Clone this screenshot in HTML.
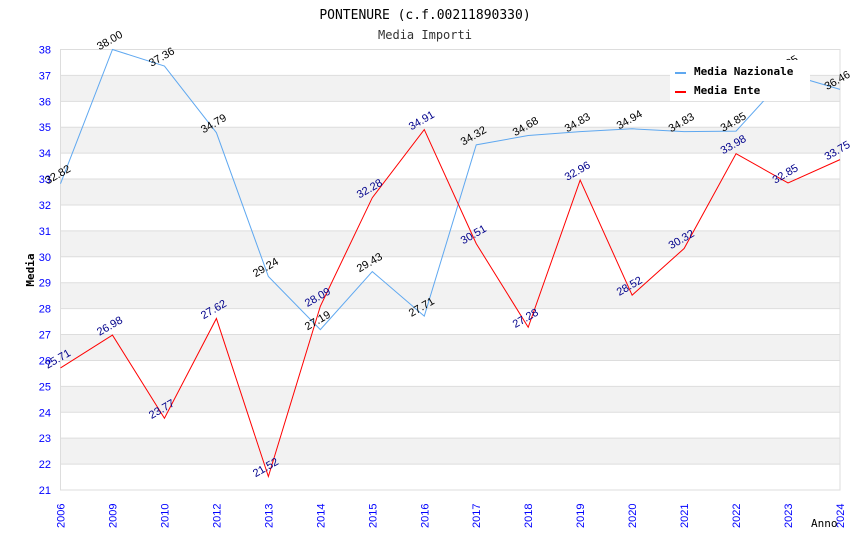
<!DOCTYPE html>
<html><head><meta charset="utf-8"><style>
body{margin:0;background:#fff;width:850px;height:550px;overflow:hidden}
text{font-family:"DejaVu Sans Mono","Liberation Mono",monospace}
text.s{font-family:"Liberation Sans","DejaVu Sans",sans-serif}
</style></head><body>
<svg id="c" width="850" height="550" xmlns="http://www.w3.org/2000/svg">
<text x="425" y="19" text-anchor="middle" font-size="13" fill="#000">PONTENURE (c.f.00211890330)</text>
<text x="425" y="39" text-anchor="middle" font-size="12" fill="#333">Media Importi</text>
<g id="grid"></g><g id="marks"></g><g id="labels"></g>
<text transform="translate(34,270) rotate(-90)" text-anchor="middle" font-size="11" font-weight="bold">Media</text>
<text x="811" y="527" font-size="11">Anno</text>
<g>
<rect x="670" y="60" width="140" height="41" fill="#fff"/>
<line x1="675" y1="73" x2="686" y2="73" stroke="#5fa8f0" stroke-width="2"/>
<text x="694" y="75" font-size="11" font-weight="bold">Media Nazionale</text>
<line x1="675" y1="92" x2="686" y2="92" stroke="#f00" stroke-width="2"/>
<text x="694" y="94" font-size="11" font-weight="bold">Media Ente</text>
</g>
</svg>
<script>
const years=["2006","2009","2010","2012","2013","2014","2015","2016","2017","2018","2019","2020","2021","2022","2023","2024"];
const nazionale=[32.82,38.00,37.36,34.79,29.24,27.19,29.43,27.71,34.32,34.68,34.83,34.94,34.83,34.85,37.05,36.46];
const ente=[25.71,26.98,23.77,27.62,21.52,28.09,32.28,34.91,30.51,27.28,32.96,28.52,30.32,33.98,32.85,33.75];
const yTicks=[21,22,23,24,25,26,27,28,29,30,31,32,33,34,35,36,37,38];
const NS="http://www.w3.org/2000/svg";
const L=60.5,R=840,T=49.5,B=490,ymin=21,ymax=38;
const x=i=>L+i*(R-L)/(years.length-1);
const y=v=>B-(v-ymin)*(B-T)/(ymax-ymin);
function mk(tag,attrs,parent){const e=document.createElementNS(NS,tag);for(const k in attrs)e.setAttribute(k,attrs[k]);parent.appendChild(e);return e;}
const g=document.getElementById('grid'),m=document.getElementById('marks'),lb=document.getElementById('labels');
for(let v=ymin;v<ymax;v++){if(v%2===0){const r=mk('rect',{x:L,y:y(v+1),width:R-L,height:y(v)-y(v+1),fill:'#f2f2f2'},g);}}
yTicks.forEach(v=>{const l=mk('line',{x1:L,x2:R,y1:y(v),y2:y(v),stroke:'#ddd'},g);
const t=mk('text',{x:51,y:y(v)+4,'text-anchor':'end','font-size':11,fill:'#00f',class:'s'},g);t.textContent=v;});
mk('rect',{x:L,y:T,width:R-L,height:B-T,fill:'none',stroke:'#ddd'},g);
years.forEach((yr,i)=>{const t=mk('text',{transform:`translate(${x(i)+4},${B+38}) rotate(-90)`,'font-size':11,fill:'#00f',class:'s'},g);t.textContent=yr;});
function series(vals,color,lc,name){
const p=mk('polyline',{points:vals.map((v,i)=>x(i)+','+y(v)).join(' '),fill:'none',stroke:color,'stroke-width':1},m);

vals.forEach((v,i)=>{const t=mk('text',{transform:`translate(${x(i)-1},${y(v)-6}) rotate(-30)`,'text-anchor':'middle','font-size':11,fill:lc,class:'s'},lb);t.textContent=v.toFixed(2);
});}
series(nazionale,'#5fa8f0','#000','nazionale');
series(ente,'#f00','#00008b','ente');
</script>
</body></html>
